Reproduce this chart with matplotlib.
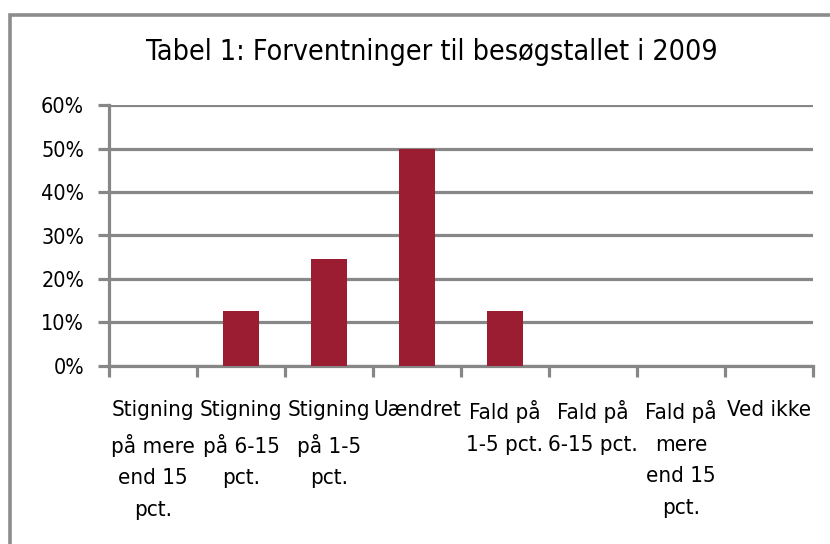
import matplotlib
matplotlib.use("Agg")
import matplotlib.pyplot as plt
from matplotlib.patches import Rectangle
from matplotlib.ticker import FixedLocator, PercentFormatter

# data
categories = [
    "Stigning\npå mere\nend 15\npct.",
    "Stigning\npå 6-15\npct.",
    "Stigning\npå 1-5\npct.",
    "Uændret",
    "Fald på\n1-5 pct.",
    "Fald på\n6-15 pct.",
    "Fald på\nmere\nend 15\npct.",
    "Ved ikke",
]
values = [0, 12.5, 24.5, 50, 12.5, 0, 0, 0]
yticks = [0, 10, 20, 30, 40, 50, 60]

BAR = "#9B1D32"
GRID = "#878787"

# smal skrift, ligner Excel-temaets condensed font
plt.rcParams["font.family"] = ["DejaVu Sans"]
plt.rcParams["font.stretch"] = "condensed"

fig = plt.figure(figsize=(8.3, 5.44), dpi=100)
fig.patch.set_facecolor("white")

# diagramramme (løber ud over højre/nederste kant som i originalen)
fig.patches.append(Rectangle((10 / 830, -0.05), 1.2, 1 - 14.5 / 544 + 0.05,
                             transform=fig.transFigure, fill=False,
                             edgecolor="#8C8C8C", linewidth=2.6))

ax = fig.add_axes([109 / 830, 1 - 365.5 / 544, (813 - 109) / 830, (365.5 - 105.5) / 544])
x = list(range(len(categories)))
ax.bar(x, values, width=0.4, color=BAR, zorder=3)

ax.set_xlim(-0.5, len(categories) - 0.5)
ax.set_ylim(0, 60)
ax.set_yticks(yticks)
ax.yaxis.set_major_formatter(PercentFormatter(decimals=0))
ax.yaxis.grid(True, color=GRID, linewidth=2.3, zorder=0)
ax.set_axisbelow(True)

ax.set_xticks(x)
ax.set_xticklabels(categories, linespacing=1.72, fontsize=16, va="top")
ax.xaxis.set_minor_locator(FixedLocator([i - 0.5 for i in range(len(categories) + 1)]))
ax.tick_params(axis="x", which="major", length=0, pad=25)
ax.tick_params(axis="x", which="minor", length=8, width=2.3, color=GRID, direction="out")
ax.tick_params(axis="y", length=8, width=2.3, color=GRID, labelsize=15.5, pad=10)

for s in ["top", "right"]:
    ax.spines[s].set_visible(False)
for s in ["left", "bottom"]:
    ax.spines[s].set_color(GRID)
    ax.spines[s].set_linewidth(2.3)

fig.text(432 / 830, 1 - 52 / 544, "Tabel 1: Forventninger til besøgstallet i 2009",
         ha="center", va="center", fontsize=20.5)

fig.savefig("out.png", dpi=100)
